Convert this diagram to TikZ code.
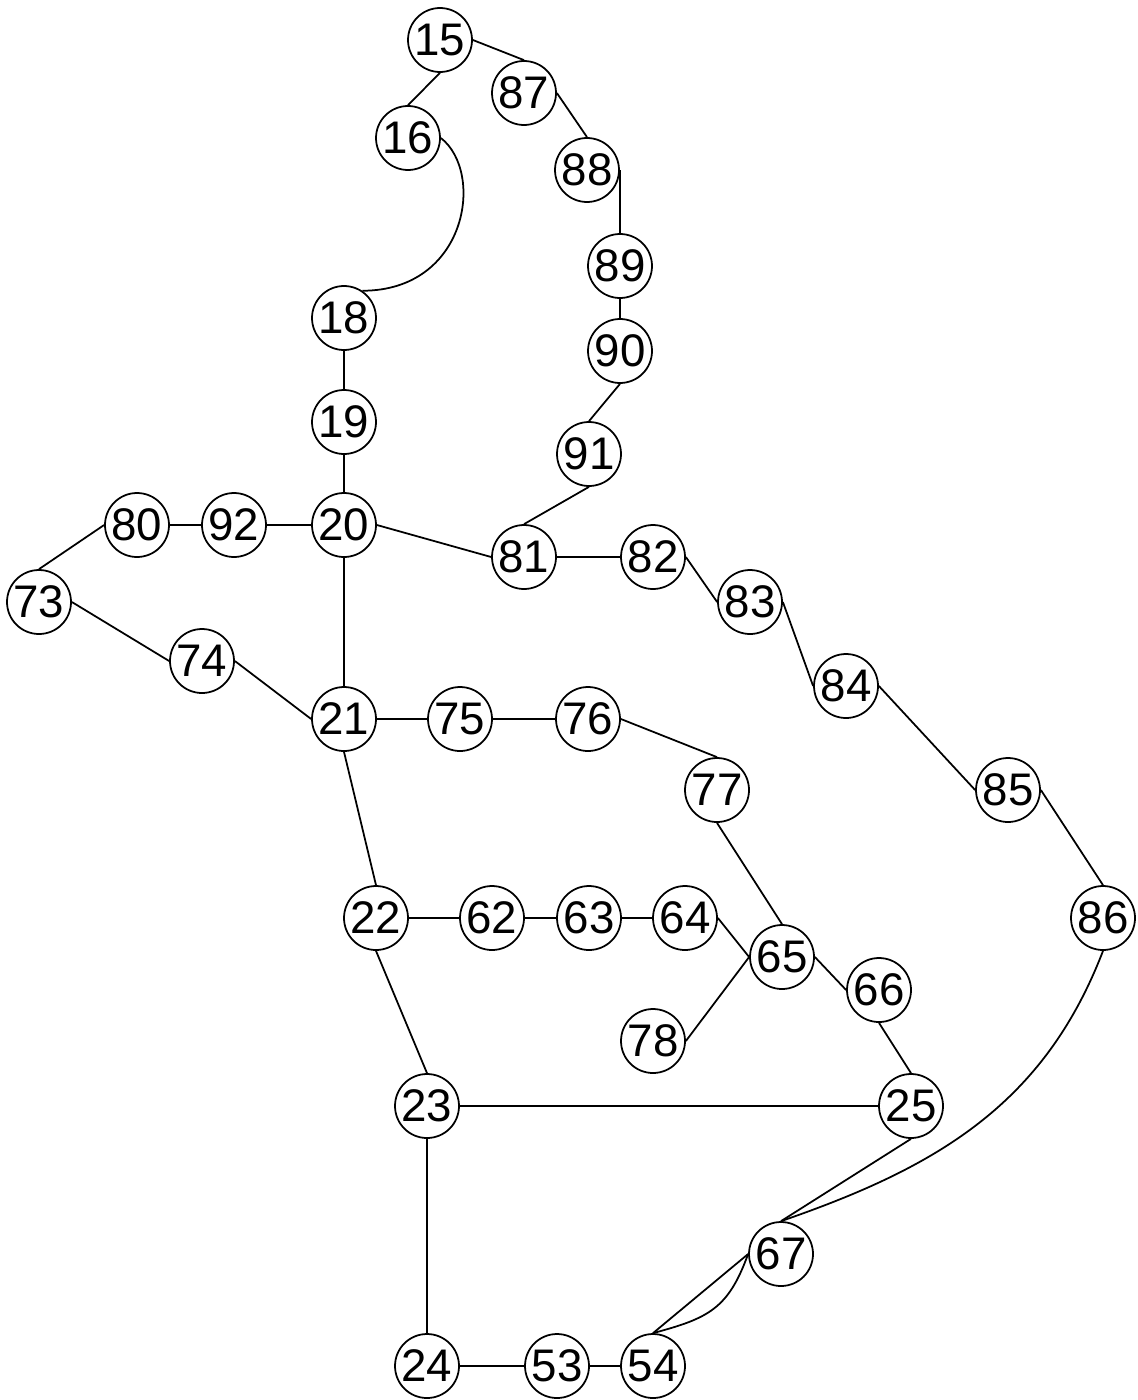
\documentclass[tikz,border=0pt]{standalone}
\usepackage{fontspec}
\setmainfont{Liberation Sans}

\begin{document}
\begin{tikzpicture}[
    vert/.style={draw, circle, minimum size=0.64cm, inner sep=0pt, line width=0.5pt, font=\fontsize{13}{15}\selectfont},
    edge/.style={line width=0.5pt}]

    \useasboundingbox (0,0) rectangle (11.38,-14);

    % upper loop
    \node[vert] (v15) at (4.40, -0.40) {15};
    \node[vert] (v87) at (5.24, -0.93) {87};
    \node[vert] (v16) at (4.08, -1.38) {16};
    \node[vert] (v88) at (5.87, -1.70) {88};
    \node[vert] (v89) at (6.20, -2.66) {89};
    \node[vert] (v18) at (3.44, -3.18) {18};
    \node[vert] (v90) at (6.20, -3.51) {90};
    \node[vert] (v19) at (3.44, -4.22) {19};
    \node[vert] (v91) at (5.89, -4.54) {91};

    % middle row
    \node[vert] (v80) at (1.37, -5.25) {80};
    \node[vert] (v92) at (2.34, -5.25) {92};
    \node[vert] (v20) at (3.44, -5.25) {20};
    \node[vert] (v81) at (5.24, -5.57) {81};
    \node[vert] (v82) at (6.53, -5.57) {82};
    \node[vert] (v73) at (0.39, -6.02) {73};
    \node[vert] (v83) at (7.50, -6.02) {83};
    \node[vert] (v74) at (2.02, -6.61) {74};
    \node[vert] (v84) at (8.46, -6.86) {84};
    \node[vert] (v21) at (3.44, -7.19) {21};
    \node[vert] (v75) at (4.60, -7.19) {75};
    \node[vert] (v76) at (5.88, -7.19) {76};
    \node[vert] (v77) at (7.17, -7.90) {77};
    \node[vert] (v85) at (10.08, -7.90) {85};

    % lower part
    \node[vert] (v22) at (3.76, -9.18) {22};
    \node[vert] (v62) at (4.92, -9.18) {62};
    \node[vert] (v63) at (5.89, -9.18) {63};
    \node[vert] (v64) at (6.85, -9.18) {64};
    \node[vert] (v86) at (11.03, -9.18) {86};
    \node[vert] (v65) at (7.82, -9.57) {65};
    \node[vert] (v66) at (8.79, -9.90) {66};
    \node[vert] (v78) at (6.53, -10.41) {78};
    \node[vert] (v23) at (4.27, -11.06) {23};
    \node[vert] (v25) at (9.11, -11.06) {25};
    \node[vert] (v67) at (7.81, -12.54) {67};
    \node[vert] (v24) at (4.27, -13.66) {24};
    \node[vert] (v53) at (5.57, -13.66) {53};
    \node[vert] (v54) at (6.53, -13.66) {54};

    \draw [edge](v15.east) -- (v87.north);
    \draw [edge](v15.south) -- (v16.north);
    \draw [edge](v87.east) -- (v88.north);
    \draw [edge](v88.east) -- (v89.north);
    \draw [edge](v89.south) -- (v90.north);
    \draw [edge](v90.south) -- (v91.north);
    \draw [edge](v91.south) -- (v81.north);
    \draw [edge](v16.east) to[out=-38, in=0, out distance=0.56cm, in distance=1.05cm] (v18.56);
    \draw [edge](v18.south) -- (v19.north);
    \draw [edge](v19.south) -- (v20.north);

    \draw [edge](v92.east) -- (v20.west);
    \draw [edge](v80.east) -- (v92.west);
    \draw [edge](v80.west) -- (v73.north);
    \draw [edge](v73.east) -- (v74.west);
    \draw [edge](v74.east) -- (v21.west);
    \draw [edge](v20.south) -- (v21.north);
    \draw [edge](v20.east) -- (v81.west);
    \draw [edge](v81.east) -- (v82.west);
    \draw [edge](v82.east) -- (v83.west);
    \draw [edge](v83.east) -- (v84.west);
    \draw [edge](v84.east) -- (v85.west);
    \draw [edge](v85.east) -- (v86.north);
    \draw [edge](v86.south) to[out=-111, in=19] (v67.north);

    \draw [edge](v21.east) -- (v75.west);
    \draw [edge](v75.east) -- (v76.west);
    \draw [edge](v76.east) -- (v77.north);
    \draw [edge](v77.south) -- (v65.north);
    \draw [edge](v21.south) -- (v22.north);
    \draw [edge](v22.east) -- (v62.west);
    \draw [edge](v62.east) -- (v63.west);
    \draw [edge](v63.east) -- (v64.west);
    \draw [edge](v64.east) -- (v65.west);
    \draw [edge](v65.west) -- (v78.east);
    \draw [edge](v65.east) -- (v66.west);
    \draw [edge](v66.south) -- (v25.north);

    \draw [edge](v22.south) -- (v23.north);
    \draw [edge](v23.east) -- (v25.west);
    \draw [edge](v23.south) -- (v24.north);
    \draw [edge](v25.south) -- (v67.north);
    \draw [edge](v67.west) -- (v54.north);
    \draw [edge](v67.west) to[out=-110, in=15, looseness=1.2] (v54.north);
    \draw [edge](v24.east) -- (v53.west);
    \draw [edge](v53.east) -- (v54.west);

\end{tikzpicture}
\end{document}
